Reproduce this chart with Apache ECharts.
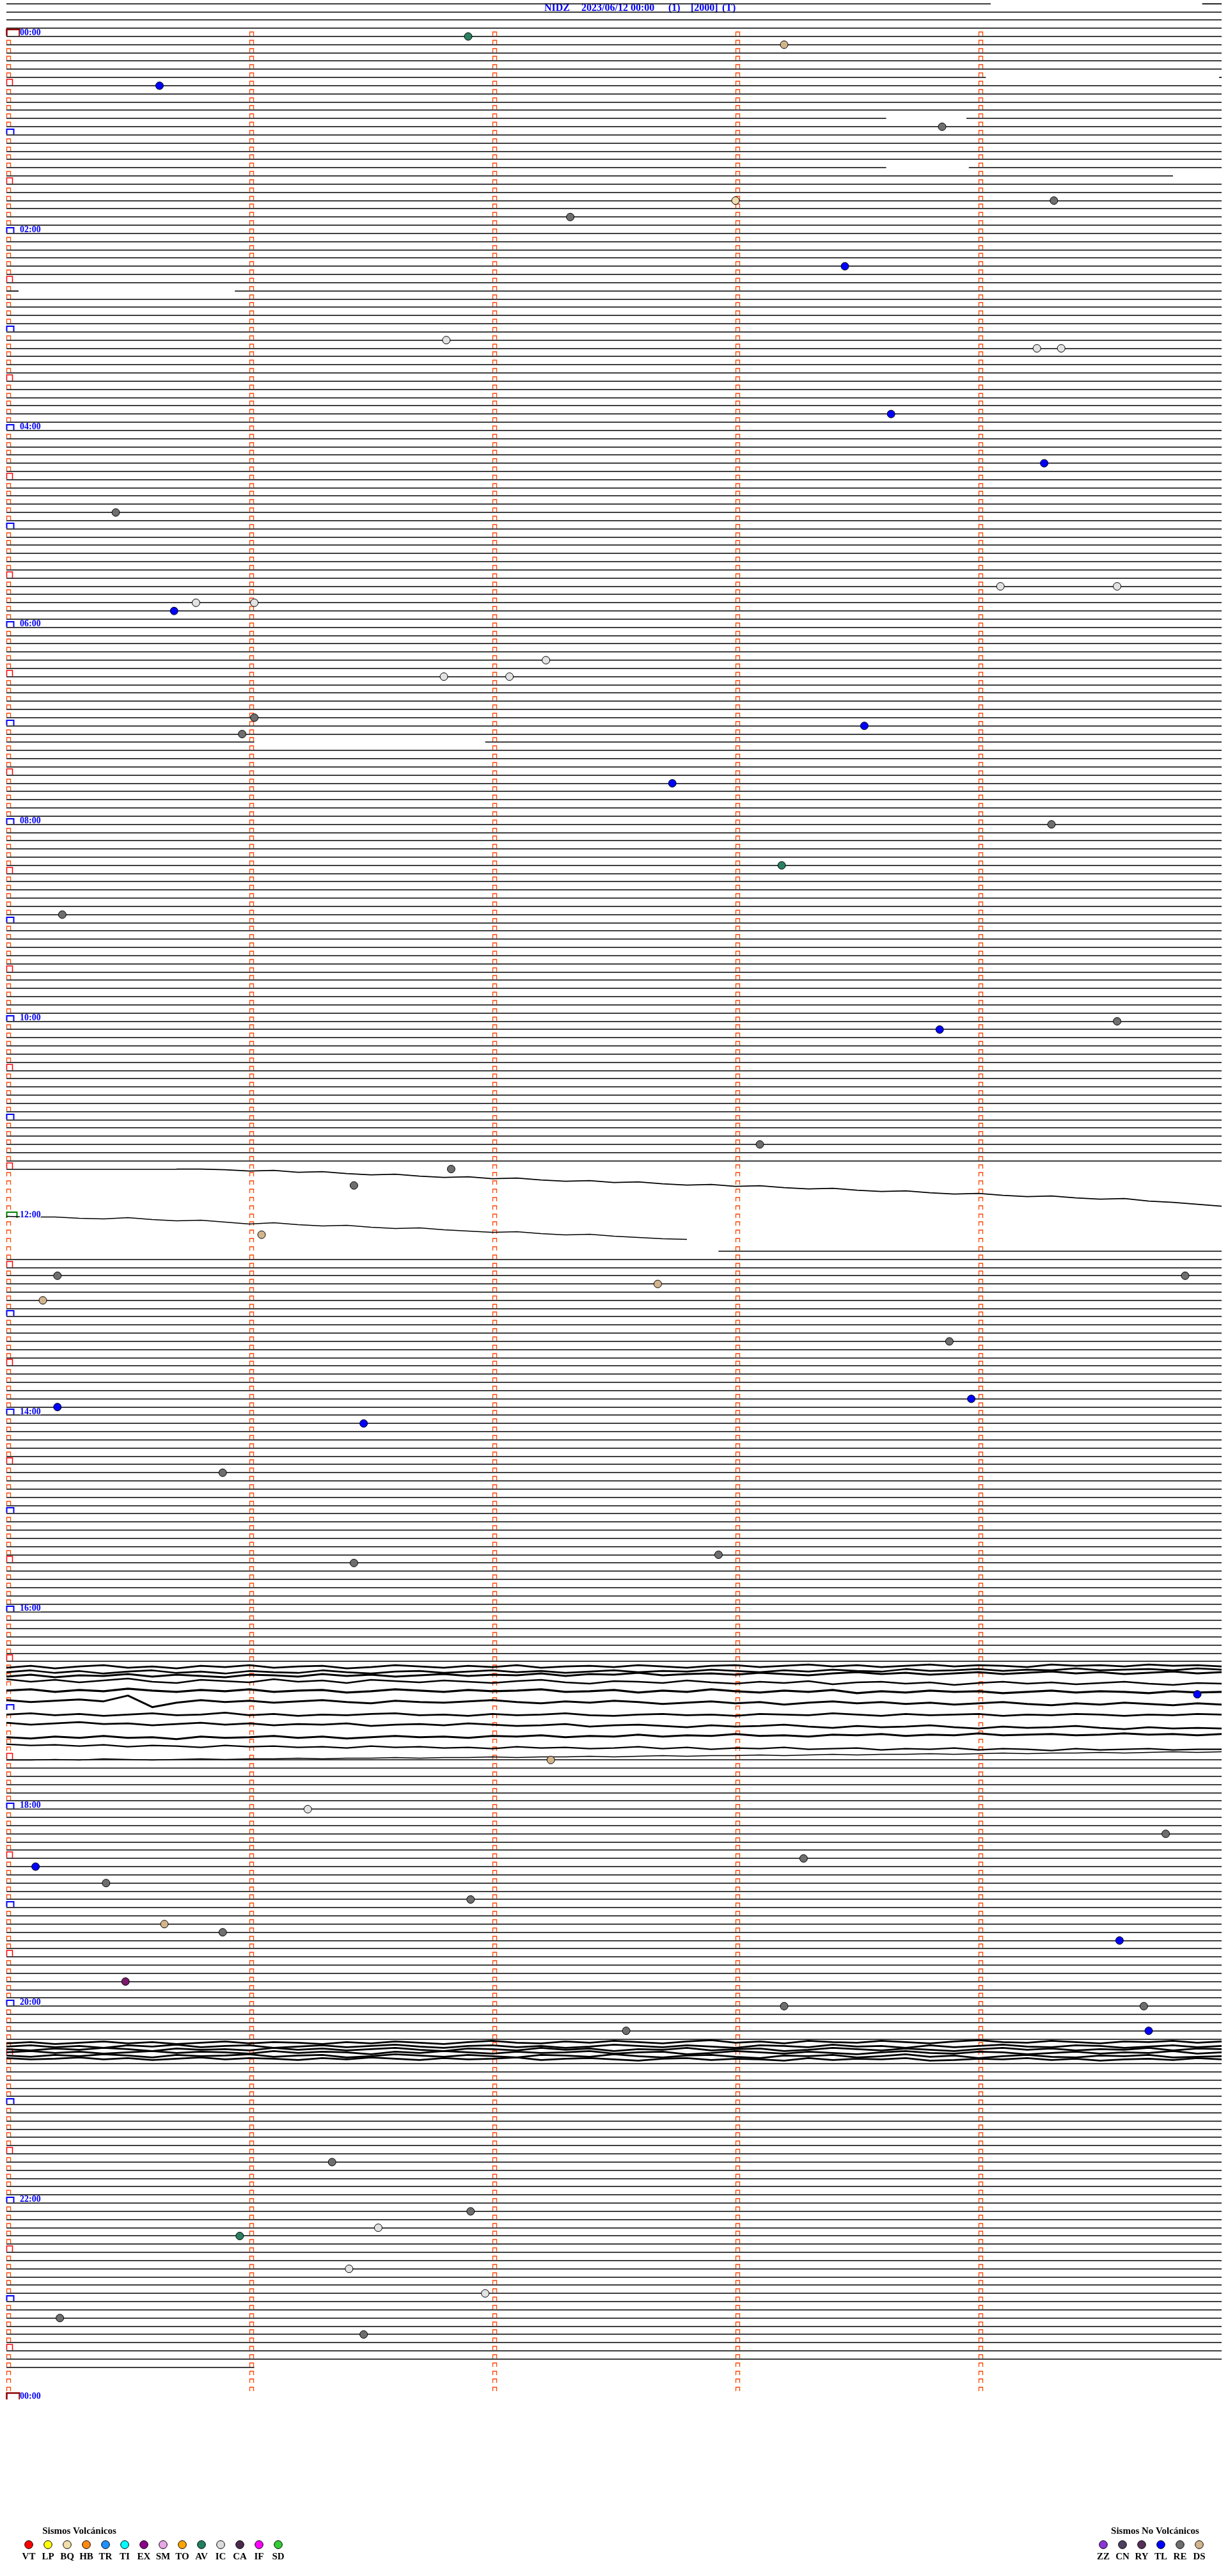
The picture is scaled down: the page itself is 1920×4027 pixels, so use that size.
<!DOCTYPE html>
<html><head><meta charset="utf-8">
<script src="https://cdn.jsdelivr.net/npm/echarts@6/dist/echarts.min.js"></script>
<style>html,body{margin:0;padding:0;background:#fff}#c{width:1920px;height:4027px}</style>
</head><body><div id="c"></div>
<script>
// ---------------- DATA ----------------
const titleParts = ['NIDZ', '2023/06/12 00:00', '(1)', '[2000]', '(T)'];
const hourLabels = ['00:00','02:00','04:00','06:00','08:00','10:00','12:00','14:00','16:00','18:00','20:00','22:00','00:00'];
const minutesPerRow = 5;
const rowsPerDay = 288;
const firstTraceRow = -4;
const lastTraceRow = 284;
// rows without a flat trace (missing or drawn as noisy traces)
const missingRows = [139,140,141,142,143,144,145,146,147,199,200,201,202,203,204,205,206,207,208,209,245,246,285,286,287];
// gaps inside traces: [row, fromMinute, toMinute]
const traceGaps = [[-4,4.05,4.92],[5,4.03,4.99],[10,3.62,3.95],[16,3.62,3.96],[17,4.8,5],[31,0.05,0.94],[86,1.02,1.97],[138,0.7,5],[148,0,2.93],[284,1.02,5]];

// events [minute, row]
const eventsTL = [[0.63,6],[3.45,28],[3.64,46],[4.27,52],[0.69,70],[3.53,84],[2.74,91],[3.84,121],[3.97,166],[0.21,167],[1.47,169],[4.90,202],[0.12,223],[4.58,232],[4.70,243]];
const eventsRE = [[3.85,11],[4.31,20],[2.32,22],[0.45,58],[1.02,83],[0.97,85],[4.30,96],[0.23,107],[4.57,120],[3.10,135],[1.83,138],[1.43,140],[0.21,151],[4.85,151],[3.88,159],[0.89,175],[2.93,185],[1.43,186],[4.77,219],[3.28,222],[0.41,225],[1.91,227],[0.89,231],[3.20,240],[4.68,240],[2.55,243],[1.34,259],[1.91,265],[0.22,278],[1.47,280]];
const eventsIC = [[1.81,37],[4.24,38],[4.34,38],[4.09,67],[4.57,67],[0.78,69],[1.02,69],[2.22,76],[1.80,78],[2.07,78],[1.24,216],[1.53,267],[1.41,272],[1.97,275]];
const eventsDS = [[3.20,1],[1.05,146],[2.68,152],[0.15,154],[2.24,210],[0.65,230]];
const eventsBQ = [[3.00,20]];
const eventsAV = [[1.90,0],[3.19,101],[0.96,268]];
const eventsEX = [[0.49,237]];

// legend
const volcanicTypes = ['VT','LP','BQ','HB','TR','TI','EX','SM','TO','AV','IC','CA','IF','SD'];
const volcanicColors = ['#FF0000','#FFFF00','#F3DEAA','#FF8810','#1E90FF','#00FFFF','#8B008B','#E8A8E8','#FFA500','#1F8060','#DCDCDC','#4B2A4B','#FF00FF','#33CC33'];
const nonVolcanicTypes = ['ZZ','CN','RY','TL','RE','DS'];
const nonVolcanicColors = ['#8A36D6','#4F3F5F','#553055','#0000FF','#6E6E6E','#D2B48C'];

// noisy traces: amplitude samples every 0.1 minute (amplitude units, 12.83 units = one row)
const sampleStep = 0.1;
const a1 = [0,0,1,3,2,5,4,7,9,8,11,13,12,15,14,17,19,18,21,20,23,25,24,27,26,29,31,30,33,35,34,37,39,38,41,43,42,45,47,46,50,52,55,58];
const a2 = [-3,-2,-2,0,1,-1,2,4,3,6,9,7,10,12,11,14,16,15,18,20,22,21,24,26,25,28,30,32,33];
const b1 = [-3,-6,-2,-5,-7,-3,-5,-2,-6,-4,-7,-3,-5,-6,-2,-4,-7,-5,-3,-6,-4,-7,-3,-5,-6,-4,-7,-5,-3,-6,-7,-4,-6,-8,-5,-7,-4,-6,-8,-5,-7,-6,-4,-8,-6,-7,-5,-8,-6,-7,-5];
const b2 = [4,1,5,2,6,3,1,5,3,6,2,4,5,1,4,6,3,2,5,3,1,4,2,5,3,1,4,2,3,0,2,4,1,3,0,2,3,-1,2,1,-1,2,0,1,-2,1,0,-1,1,-2,0];
const b3 = [-2,-5,-1,-4,-3,-6,-2,-5,-3,-1,-5,-4,-2,-6,-3,-5,-2,-4,-6,-3,-5,-4,-7,-3,-6,-5,-8,-4,-6,-7,-5,-8,-6,-4,-7,-9,-6,-8,-5,-7,-9,-6,-8,-10,-7,-9,-6,-8,-10,-7,-9];
const b4 = [2,6,3,7,4,1,6,8,3,5,7,2,6,4,8,3,5,7,4,6,8,5,3,7,9,5,6,8,4,7,9,6,8,5,10,7,6,9,7,11,8,6,9,7,10,8,6,9,11,8,9];
const b5 = [7,5,9,6,8,4,7,9,6,8,5,9,7,6,10,8,5,7,9,6,8,7,5,9,8,6,10,7,9,5,8,10,7,9,6,11,8,10,7,9,8,11,9,7,10,8,9,11,8,10,9];
const b6 = [9,12,10,8,11,2,20,13,9,12,10,13,11,9,12,14,10,12,13,11,9,12,14,11,13,10,12,15,13,11,14,12,16,13,11,14,12,15,13,16,14,12,15,17,14,16,13,15,17,14,16];
const b7 = [6,4,7,5,8,6,4,7,6,3,7,5,8,6,7,5,4,7,6,8,5,7,6,4,7,8,6,5,7,6,8,5,6,7,4,6,8,5,7,6,5,8,6,7,5,6,8,6,7,5,6];
const b8 = [6,9,7,5,8,7,10,8,6,9,7,10,8,9,7,11,9,8,10,7,9,11,10,8,12,10,9,11,13,10,12,11,9,12,14,11,13,12,10,13,15,12,14,13,11,14,16,13,15,14,15];
const b9 = [3,5,2,4,1,4,3,6,2,4,3,1,4,2,5,3,1,3,2,4,1,2,0,3,1,2,-1,2,0,1,-2,1,0,2,-1,0,-2,1,-1,0,-3,0,-1,-2,0,-1,-3,-1,-2,0,-2];
const b10 = [1,3,2,4,2,5,3,4,6,3,5,4,6,5,7,4,6,5,7,6,8,5,7,6,8,7,5,8,6,9,7,8,6,9,8,7,10,8,9,7,10,8,9,11,8,10,9,8,10,9,9];
const b11 = [13,13,12,13,11,12,13,12,11,12,11,11,10,11,10,10,9,10,9,9,8,9,8,8,7,8,7,6,7,6,6,5,6,5,4,5,4,4,3,4,3,2,3,2,2,1,2,1,0,1,0];
const c1 = [-6,-8,-5,-7,-9,-6,-8,-5,-7,-9,-6,-8,-7,-5,-8,-6,-9,-7,-5,-8,-10,-7,-6,-9,-7,-10,-8,-6,-9,-11,-7,-9,-6,-10,-8,-7,-10,-8,-6,-9,-11,-8,-7,-10,-8,-6,-9,-8,-10,-7,-9];
const c2 = [-1,-3,0,-2,1,-3,-1,-4,0,-2,-3,1,-1,-3,0,-2,-4,-1,1,-2,-3,0,-2,1,-1,-4,-2,0,-3,-1,1,-3,-2,0,-4,-1,-2,1,-3,0,-2,-4,-1,0,-3,-2,1,-1,-3,0,-2];
const c3 = [3,5,2,4,1,3,6,2,4,3,5,1,4,2,5,3,1,4,6,2,3,5,1,4,2,6,3,4,1,5,3,2,6,4,1,3,5,2,4,6,3,1,4,2,5,3,4,1,5,2,3];
const c4 = [8,6,9,7,10,8,6,9,7,8,10,6,9,7,8,11,7,9,6,8,10,7,9,8,6,10,8,7,11,9,6,8,10,7,9,11,8,6,9,10,7,8,11,9,7,10,8,9,6,10,8];
const c5 = [13,15,12,14,11,13,16,12,14,13,11,15,13,12,16,14,11,13,15,12,14,16,12,13,15,11,14,16,13,12,15,17,13,14,12,16,14,11,15,13,17,14,12,15,16,13,14,12,16,15,14];
const c6 = [17,19,18,16,19,17,20,18,16,19,17,18,20,17,19,16,18,20,17,19,18,16,20,18,17,19,21,18,17,20,18,19,21,17,20,18,19,17,21,20,18,19,17,20,18,21,19,18,20,17,19];
const noisySeries = [a1,a2,b1,b2,b3,b4,b5,b6,b7,b8,b9,b10,b11,c1,c2,c3,c4,c5,c6];
const noisyBaseRows = [138,144,199,199,200,200,201,202,204,205,207,208,209,245,245,245,245,245,245];
const noisyStartMin = [0.7,0,0,0,0,0,0,0,0,0,0,0,0,0,0,0,0,0,0];

// ---------------- LAYOUT / STYLE ----------------
const W = 1920, H = 4027, ROW_PX = 12.83, TOP_PX = 57;
const noisyWidths = [1.7,1.7,2.8,2.6,2.8,2.6,3.4,3,2.8,2.8,3,2.4,1.6,2.8,2.6,2.6,2.6,2.6,2.8];
const serif = '"Liberation Serif", "Times New Roman", serif';

// build flat trace segments
const flatSegments = [];
for (let r = firstTraceRow; r <= lastTraceRow; r++) {
  if (missingRows.includes(r)) continue;
  let segs = [[0, minutesPerRow]];
  traceGaps.filter(g => g[0] === r).forEach(g => {
    const out = [];
    segs.forEach(s => {
      if (g[2] <= s[0] || g[1] >= s[1]) { out.push(s); return; }
      if (g[1] > s[0]) out.push([s[0], g[1]]);
      if (g[2] < s[1]) out.push([g[2], s[1]]);
    });
    segs = out;
  });
  segs.forEach(s => flatSegments.push([s[0], r, s[1]]));
}

// markers: [minute, row, kind]
const markerData = [];
for (let r = 0; r < rowsPerDay; r++) {
  for (let m = 0; m < minutesPerRow; m++) {
    let kind = 0;
    if (m === 0) {
      if (r % 12 === 0) kind = (r === 0 ? 3 : (r === 144 ? 4 : 2));
      else if (r % 6 === 0) kind = 1;
    }
    markerData.push([m, r, kind]);
  }
}
markerData.push([0, rowsPerDay, 3]);
const markerStyles = [
  {w:6, h:6, lw:1.3, color:'#FF4500'},
  {w:9, h:9, lw:1.5, color:'#FF0000'},
  {w:11, h:8, lw:2, color:'#0000FF'},
  {w:20, h:10, lw:2.5, color:'#8B0000'},
  {w:16, h:9, lw:2, color:'#008000'}
];
const labelData = hourLabels.map((t, i) => [0, i * 24, i]);

const series = [];
series.push({
  type:'custom', silent:true, z:2, data: flatSegments,
  renderItem: (p, api) => {
    const a = api.coord([api.value(0), api.value(1)]);
    const b = api.coord([api.value(2), api.value(1)]);
    const y = Math.round(a[1]);
    return {type:'line', shape:{x1:a[0], y1:y, x2:b[0], y2:y}, style:{stroke:'#000', lineWidth:1.7, fill:'none'}};
  }
});
series.push({
  type:'custom', silent:true, z:3, data: markerData,
  renderItem: (p, api) => {
    const s = markerStyles[api.value(2)];
    const c = api.coord([api.value(0), api.value(1)]);
    const x = Math.round(c[0]) + 0.5, y = Math.round(c[1]) - 1;
    return {type:'polyline', shape:{points:[[x, y], [x, y - s.h], [x + s.w, y - s.h], [x + s.w, y]]},
      style:{stroke:s.color, fill:'none', lineWidth:s.lw}};
  }
});
series.push({
  type:'custom', silent:true, z:5, data: labelData,
  renderItem: (p, api) => {
    const c = api.coord([api.value(0), api.value(1)]);
    return {type:'text', x: c[0] + 21, y: c[1] - 5.5,
      style:{text: hourLabels[api.value(2)], fill:'#0000FF', font:'bold 14px ' + serif,
        backgroundColor:'#fff', lineHeight:9, align:'left', verticalAlign:'middle'}};
  }
});
noisySeries.forEach((vals, i) => {
  const base = noisyBaseRows[i], st = noisyStartMin[i];
  series.push({
    type:'line', silent:true, z:4, showSymbol:false, symbol:'none', animation:false,
    lineStyle:{color:'#000', width:noisyWidths[i]},
    data: vals.map((v, k) => [st + k * sampleStep, base + v / ROW_PX])
  });
});
const eventSets = [
  [eventsTL, '#0000FF'], [eventsRE, '#6E6E6E'], [eventsIC, '#E2E2E2'], [eventsDS, '#D2B48C'],
  [eventsBQ, '#F0DCB0'], [eventsAV, '#2A8060'], [eventsEX, '#7A1A6A']
];
eventSets.forEach(([d, col]) => {
  series.push({type:'scatter', silent:true, z:10, data:d, symbol:'circle', symbolSize:12,
    itemStyle:{color:col, borderColor:'#000', borderWidth:1, opacity:1}});
});

// graphics: title + legend
const graphics = [];
const titleX = [851, 909, 1045, 1080, 1129];
titleParts.forEach((t, i) => graphics.push({type:'text', x:titleX[i], y:13,
  style:{text:t, fill:'#0000FF', font:'bold 16px ' + serif, align:'left', verticalAlign:'middle'}}));
graphics.push({type:'text', x:124, y:3957, style:{text:'Sismos Volcánicos', fill:'#000', font:'bold 15px ' + serif, align:'center', verticalAlign:'middle'}});
graphics.push({type:'text', x:1806, y:3957, style:{text:'Sismos No Volcánicos', fill:'#000', font:'bold 15px ' + serif, align:'center', verticalAlign:'middle'}});
function legendRow(types, colors, x0) {
  types.forEach((t, i) => {
    const cx = x0 + 30 * i;
    graphics.push({type:'circle', shape:{cx:cx, cy:3978, r:6.3}, style:{fill:colors[i], stroke:'#000', lineWidth:1}});
    graphics.push({type:'text', x:cx, y:3997, style:{text:t, fill:'#000', font:'bold 15px ' + serif, align:'center', verticalAlign:'middle'}});
  });
}
legendRow(volcanicTypes, volcanicColors, 45);
legendRow(nonVolcanicTypes, nonVolcanicColors, 1725);

const chart = echarts.init(document.getElementById('c'), null, {renderer:'canvas', width:W, height:H});
chart.setOption({
  animation:false,
  backgroundColor:'#fff',
  grid:{left:10, right:10, top:0, bottom:0},
  xAxis:{type:'value', min:0, max:minutesPerRow, show:false},
  yAxis:{type:'value', inverse:true, min:-TOP_PX / ROW_PX, max:(H - TOP_PX) / ROW_PX, show:false},
  series: series,
  graphic: graphics
});
</script></body></html>
